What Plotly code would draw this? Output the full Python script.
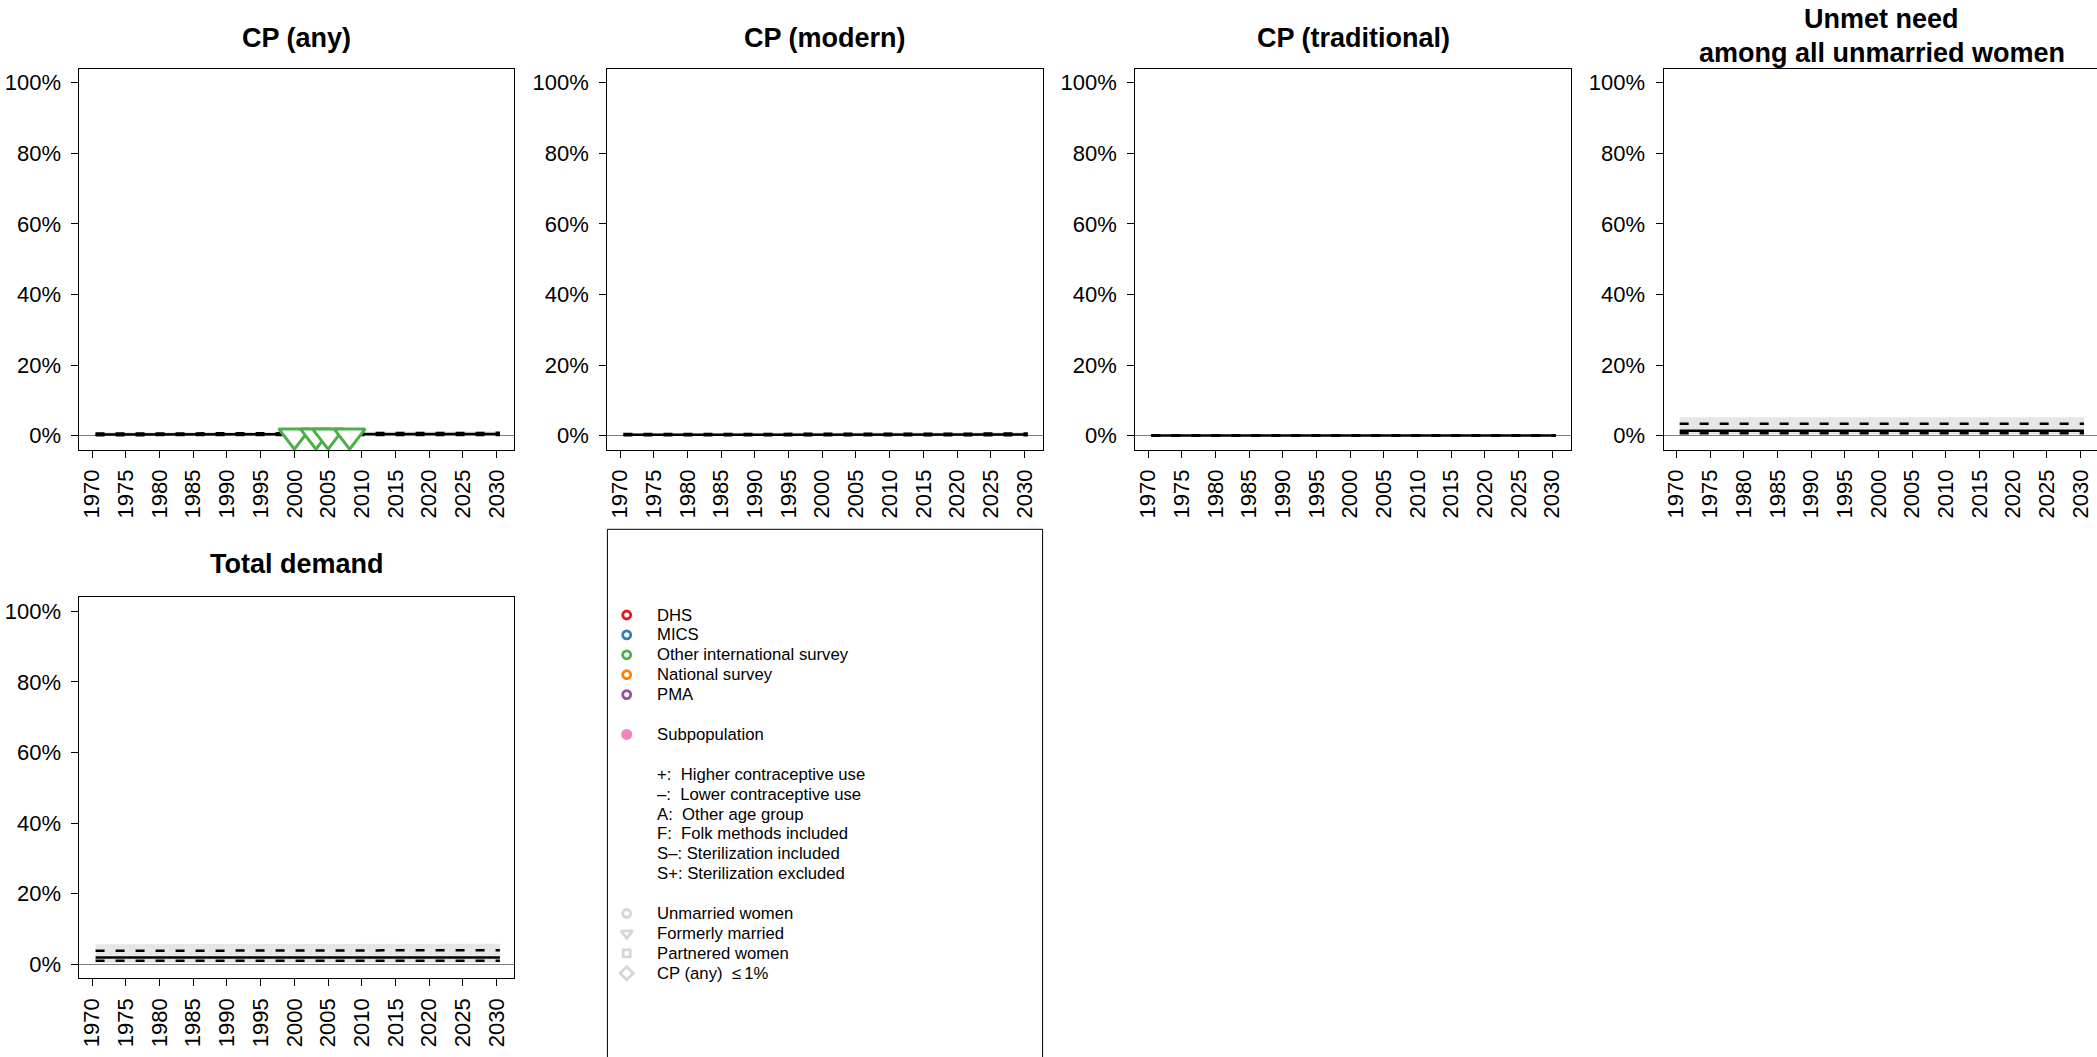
import plotly.graph_objects as go

W, H = 2097, 1057
FONT = "Liberation Sans, Arial, Helvetica, sans-serif"

# ---------------- data ----------------
years = [1970.5, 1980.5, 1990.5, 2000.5, 2010.5, 2020.5, 2030.5]
tick_years = list(range(1970, 2031, 5))
y_ticks = [0, 20, 40, 60, 80, 100]

panel_titles = ["CP (any)", "CP (modern)", "CP (traditional)",
                ["Unmet need", "among all unmarried women"], "Total demand"]

# CP (any)
cp_any_med  = [0.35, 0.35, 0.35, 0.35, 0.35, 0.40, 0.45]
cp_any_lo80 = [0.15, 0.15, 0.15, 0.15, 0.15, 0.15, 0.20]
cp_any_up80 = [0.60, 0.60, 0.60, 0.60, 0.60, 0.70, 0.80]
cp_any_lo95 = [0.05, 0.05, 0.05, 0.05, 0.05, 0.05, 0.05]
cp_any_up95 = [0.95, 0.95, 0.95, 0.95, 0.95, 1.05, 1.15]
# CP (modern)
cp_mod_med  = [0.25, 0.25, 0.25, 0.25, 0.25, 0.30, 0.35]
cp_mod_lo80 = [0.10, 0.10, 0.10, 0.10, 0.10, 0.10, 0.12]
cp_mod_up80 = [0.45, 0.45, 0.45, 0.45, 0.45, 0.55, 0.60]
cp_mod_lo95 = [0.03, 0.03, 0.03, 0.03, 0.03, 0.03, 0.03]
cp_mod_up95 = [0.75, 0.75, 0.75, 0.75, 0.75, 0.85, 0.95]
# CP (traditional)
cp_trad_med  = [0.05, 0.05, 0.05, 0.05, 0.05, 0.05, 0.05]
cp_trad_lo80 = [0.01, 0.01, 0.01, 0.01, 0.01, 0.01, 0.01]
cp_trad_up80 = [0.12, 0.12, 0.12, 0.12, 0.12, 0.12, 0.12]
cp_trad_lo95 = [0.00, 0.00, 0.00, 0.00, 0.00, 0.00, 0.00]
cp_trad_up95 = [0.20, 0.20, 0.20, 0.20, 0.20, 0.20, 0.20]
# Unmet need among all unmarried women
unmet_med  = [1.4, 1.4, 1.4, 1.4, 1.4, 1.4, 1.4]
unmet_lo80 = [0.7, 0.7, 0.7, 0.7, 0.7, 0.7, 0.7]
unmet_up80 = [3.4, 3.4, 3.4, 3.4, 3.4, 3.4, 3.4]
unmet_lo95 = [0.3, 0.3, 0.3, 0.3, 0.3, 0.3, 0.3]
unmet_up95 = [5.2, 5.2, 5.2, 5.2, 5.2, 5.2, 5.2]
# Total demand
dem_med  = [1.9, 1.9, 1.9, 1.9, 1.9, 1.9, 1.95]
dem_lo80 = [1.0, 1.0, 1.0, 1.0, 1.0, 1.0, 1.0]
dem_up80 = [3.8, 3.8, 3.8, 3.8, 3.8, 3.8, 4.0]
dem_lo95 = [0.4, 0.4, 0.4, 0.4, 0.4, 0.4, 0.4]
dem_up95 = [5.7, 5.7, 5.7, 5.6, 5.6, 5.7, 5.8]

# observations (CP any): Other international survey, formerly married
obs_years = [2000.0, 2003.2, 2005.0, 2008.2]
obs_values = [0.0, 0.0, 0.0, 0.0]

legend_source_labels = ["DHS", "MICS", "Other international survey", "National survey", "PMA"]
legend_source_colors = ["#E41A1C", "#377EB8", "#4DAF4A", "#FF7F00", "#984EA3"]
legend_subpop_label = "Subpopulation"
legend_flag_labels = ["+:\u00a0\u00a0Higher contraceptive use",
                      "\u2013:\u00a0\u00a0Lower contraceptive use",
                      "A:\u00a0\u00a0Other age group",
                      "F:\u00a0\u00a0Folk methods included",
                      "S\u2013:\u00a0Sterilization included",
                      "S+:\u00a0Sterilization excluded"]
legend_group_labels = ["Unmarried women", "Formerly married", "Partnered women",
                       "CP (any)\u00a0\u00a0\u2264\u20091%"]
legend_group_symbols = ["circle-open", "triangle-down-open", "square-open", "diamond-open"]

series = [
    (cp_any_med, cp_any_lo80, cp_any_up80, cp_any_lo95, cp_any_up95),
    (cp_mod_med, cp_mod_lo80, cp_mod_up80, cp_mod_lo95, cp_mod_up95),
    (cp_trad_med, cp_trad_lo80, cp_trad_up80, cp_trad_lo95, cp_trad_up95),
    (unmet_med, unmet_lo80, unmet_up80, unmet_lo95, unmet_up95),
    (dem_med, dem_lo80, dem_up80, dem_lo95, dem_up95),
]

# ---------------- layout geometry (pixels) ----------------
col_px = [(79.4, 514.4), (607.3, 1042.5), (1135.2, 1570.8), (1663.5, 2097.0), (79.4, 514.4)]
row_px = [(68.6, 449.8), (68.6, 449.8), (68.6, 449.8), (68.6, 449.8), (597.2, 978.4)]
PX_PER_YEAR = 6.739
X0 = 1968.1

fig = go.Figure()

axis_font = dict(family=FONT, size=22, color="black")
layout = dict(width=W, height=H, autosize=False,
              margin=dict(l=0, r=0, t=0, b=0, pad=0),
              paper_bgcolor="white", plot_bgcolor="rgba(0,0,0,0)",
              showlegend=False, hovermode=False)

annotations = []
shapes = []

for i in range(5):
    n = i + 1
    xs = "" if n == 1 else str(n)
    (x0p, x1p), (y0p, y1p) = col_px[i], row_px[i]
    xr = [X0, X0 + (x1p - x0p) / PX_PER_YEAR]
    layout["xaxis" + xs] = dict(
        domain=[x0p / W, x1p / W], range=xr, anchor="y" + xs,
        showline=True, linecolor="black", linewidth=1, mirror=True,
        ticks="outside", ticklen=7, tickwidth=1, tickcolor="black",
        tickvals=tick_years, ticktext=[str(t) for t in tick_years],
        tickangle=-90, tickfont=axis_font, ticklabelstandoff=3,
        showgrid=False, zeroline=False, fixedrange=True)
    layout["yaxis" + xs] = dict(
        domain=[1 - y1p / H, 1 - y0p / H], range=[-4, 104], anchor="x" + xs,
        showline=True, linecolor="black", linewidth=1, mirror=(i != 3),
        ticks="outside", ticklen=7, tickwidth=1, tickcolor="black",
        tickvals=y_ticks, ticktext=[f"{v}%" for v in y_ticks],
        tickfont=axis_font, ticklabelstandoff=6, showgrid=False,
        zeroline=True, zerolinecolor="#7f7f7f", zerolinewidth=1,
        fixedrange=True)

    med, lo80, up80, lo95, up95 = series[i]
    fig.add_trace(go.Scatter(x=years + years[::-1], y=up95 + lo95[::-1],
                             fill="toself", fillcolor="#E6E6E6",
                             line=dict(width=0), mode="lines",
                             xaxis="x" + xs, yaxis="y" + xs))
    for arr, dash in ((lo80, "9px,11px"), (up80, "9px,11px"), (med, "solid")):
        fig.add_trace(go.Scatter(x=years, y=arr, mode="lines",
                                 line=dict(color="black", width=2.5, dash=dash),
                                 xaxis="x" + xs, yaxis="y" + xs))
    if i == 0:
        fig.add_trace(go.Scatter(x=obs_years, y=obs_values, mode="markers",
                                 marker=dict(symbol="triangle-down", size=27,
                                             color="white",
                                             line=dict(color="#4DAF4A", width=3)),
                                 cliponaxis=False,
                                 xaxis="x" + xs, yaxis="y" + xs))

    # titles
    xc = (x0p + x1p) / 2 / W
    if i == 3:
        x_c = (x0p + 2100.0) / 2 / W
        for line, yc in zip(panel_titles[i], (19.0, 53.0)):
            annotations.append(dict(text="<b>" + line + "</b>", x=x_c, y=1 - yc / H,
                                    xref="paper", yref="paper", xanchor="center",
                                    yanchor="middle", showarrow=False,
                                    font=dict(family=FONT, size=27, color="black")))
    else:
        yc = 38.0 if i < 4 else 563.5
        annotations.append(dict(text="<b>" + panel_titles[i] + "</b>", x=xc, y=1 - yc / H,
                                xref="paper", yref="paper", xanchor="center",
                                yanchor="middle", showarrow=False,
                                font=dict(family=FONT, size=27, color="black")))

# ---------------- legend panel ----------------
LEG_L, LEG_R, LEG_T = 607.4, 1042.6, 529.3
shapes.append(dict(type="rect", xref="paper", yref="paper",
                   x0=LEG_L / W, x1=LEG_R / W, y0=-0.05, y1=1 - LEG_T / H,
                   line=dict(color="black", width=1), fillcolor="rgba(0,0,0,0)"))

layout["xaxis6"] = dict(domain=[0, 1], range=[0, W], visible=False, anchor="y6",
                        fixedrange=True)
layout["yaxis6"] = dict(domain=[0, 1], range=[H, 0], visible=False, anchor="x6",
                        fixedrange=True)

MARK_X, TEXT_X, ROW0, ROWH = 626.7, 654.5, 615.0, 19.9
leg_font = dict(family=FONT, size=16.7, color="black")


def row_y(r):
    return ROW0 + ROWH * r


def add_leg_text(text, r):
    annotations.append(dict(text=text, x=TEXT_X / W, y=1 - row_y(r) / H,
                            xref="paper", yref="paper", xanchor="left",
                            yanchor="middle", showarrow=False, font=leg_font))


src_rows = list(range(len(legend_source_labels)))
for lab, r in zip(legend_source_labels, src_rows):
    add_leg_text(lab, r)
fig.add_trace(go.Scatter(x=[MARK_X] * len(src_rows), y=[row_y(r) for r in src_rows],
                         mode="markers",
                         marker=dict(symbol="circle-open", size=8,
                                     color=legend_source_colors,
                                     line=dict(width=2.8, color=legend_source_colors)),
                         xaxis="x6", yaxis="y6", cliponaxis=False))

sub_row = 6
add_leg_text(legend_subpop_label, sub_row)
fig.add_trace(go.Scatter(x=[MARK_X], y=[row_y(sub_row)], mode="markers",
                         marker=dict(symbol="circle", size=11, color="#F781BF"),
                         xaxis="x6", yaxis="y6", cliponaxis=False))

for k, lab in enumerate(legend_flag_labels):
    add_leg_text(lab, 8 + k)

grp_rows = [15 + k for k in range(len(legend_group_labels))]
for lab, r in zip(legend_group_labels, grp_rows):
    add_leg_text(lab, r)
fig.add_trace(go.Scatter(x=[MARK_X] * len(grp_rows), y=[row_y(r) for r in grp_rows],
                         mode="markers",
                         marker=dict(symbol=legend_group_symbols, size=[8, 10, 7, 10],
                                     color="#C4C4C4",
                                     line=dict(width=2.8, color="#C4C4C4")),
                         xaxis="x6", yaxis="y6", cliponaxis=False))

layout["annotations"] = annotations
layout["shapes"] = shapes
fig.update_layout(**layout)

fig.write_html("out.html", include_plotlyjs=True,
               config={"displayModeBar": False, "staticPlot": True},
               post_script="document.body.style.margin='0';document.body.style.overflow='hidden';")
